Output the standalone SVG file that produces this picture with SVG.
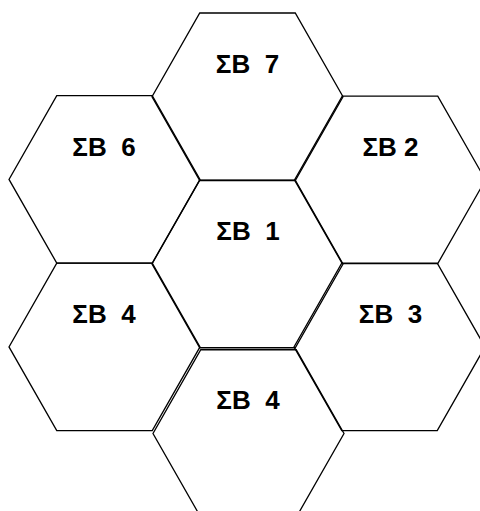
<svg xmlns="http://www.w3.org/2000/svg" width="480" height="511" viewBox="0 0 480 511">
<style>
.hex{fill:none;stroke:#000;stroke-width:1.3;stroke-linejoin:miter}
.lbl{font-family:"Liberation Sans",Arial,sans-serif;font-weight:bold;font-size:26px;fill:#000;text-anchor:middle}
</style>
<rect width="480" height="511" fill="#fff"/>
<defs>
<polygon id="hx" points="-47.75,-83.75 47.75,-83.75 95.5,0 47.75,83.75 -47.75,83.75 -95.5,0"/>
</defs>
<g id="connectors"></g>
<g id="sb7"><use href="#hx" class="hex" x="247.5" y="96.75"/><text class="lbl" x="247.5" y="73" xml:space="preserve">ΣB  7</text></g>
<g id="sb6"><use href="#hx" class="hex" x="104.5" y="179.4"/><text class="lbl" x="104" y="156" xml:space="preserve">ΣB  6</text></g>
<g id="sb2"><use href="#hx" class="hex" x="390" y="179.9"/><text class="lbl" x="390.5" y="156" xml:space="preserve">ΣB 2</text></g>
<g id="sb1"><use href="#hx" class="hex" x="247.5" y="264"/><text class="lbl" x="248" y="240" xml:space="preserve">ΣB  1</text></g>
<g id="sb4a"><use href="#hx" class="hex" x="104.5" y="346.9"/><text class="lbl" x="104" y="322.5" xml:space="preserve">ΣB  4</text></g>
<g id="sb3"><use href="#hx" class="hex" x="389.5" y="346.9"/><text class="lbl" x="390.5" y="322.5" xml:space="preserve">ΣB  3</text></g>
<g id="sb4b"><use href="#hx" class="hex" x="248.5" y="433.5"/><text class="lbl" x="248" y="409" xml:space="preserve">ΣB  4</text></g>
</svg>
